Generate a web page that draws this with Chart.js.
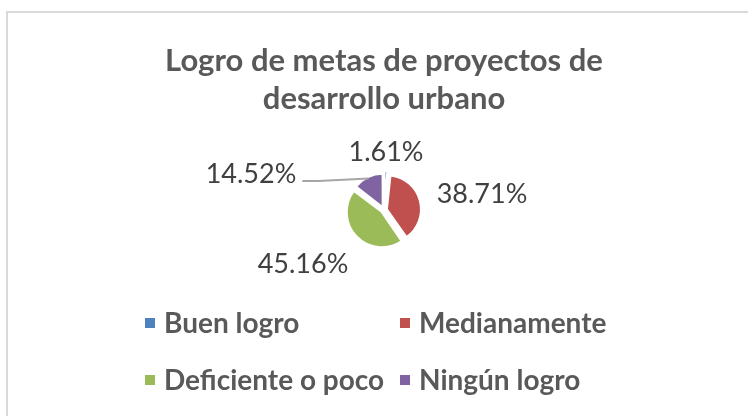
<!DOCTYPE html>
<html>
<head>
<meta charset="utf-8">
<script src="https://cdn.jsdelivr.net/npm/chart.js@4.4.0/dist/chart.umd.min.js"></script>
<style>
  html, body { margin: 0; background: #fff; }
  #wrap { width: 748px; height: 416px; }
</style>
</head>
<body>
<div id="wrap"><canvas id="pie" width="748" height="416"></canvas></div>
<script>
/* data */
const categories = ["Buen logro", "Medianamente", "Deficiente o poco", "Ningún logro"];
const shares = [1.61, 38.71, 45.16, 14.52];
const valueLabels = ["1.61%", "38.71%", "45.16%", "14.52%"];
const titleLines = ["Logro de metas de proyectos de", "desarrollo urbano"];

/* look */
const colors = ["#4F81BD", "#C0504D", "#9BBB59", "#8064A2"];
const FONT = "Lato, 'Open Sans', sans-serif";
// label text centres relative to pie centre (Excel "best fit" placement)
const labelOffsets = [[2, -59], [98, -17], [-81, 53], [-133, -37]];
const leaderFor = 3; // only the purple label gets a leader line
const legendCols = [145, 400];
const legendRows = [323, 380];

/* frame, data labels, leader line and the two-column legend */
const decor = {
  id: "decor",
  beforeDraw(chart) {
    const { ctx } = chart;
    ctx.save();
    ctx.strokeStyle = "#D9D9D9";
    ctx.lineWidth = 2;
    ctx.strokeRect(7, 12, 800, 500);
    ctx.restore();
  },
  afterDatasetsDraw(chart) {
    const { ctx } = chart;
    const arcs = chart.getDatasetMeta(0).data;
    const cx = arcs[0].x, cy = arcs[0].y;
    ctx.save();
    ctx.font = `27px ${FONT}`;
    ctx.fillStyle = "#404040";
    ctx.textAlign = "center";
    ctx.textBaseline = "middle";
    valueLabels.forEach((t, i) => {
      const [dx, dy] = labelOffsets[i];
      ctx.fillText(t, cx + dx, cy + dy + 1);
    });

    // leader line: from label's right side to the slice's outer mid point
    const a = arcs[leaderFor];
    const mid = (a.startAngle + a.endAngle) / 2;
    const r = a.outerRadius + 2;
    const ex = a.x + Math.cos(mid) * r, ey = a.y + Math.sin(mid) * r;
    const w = ctx.measureText(valueLabels[leaderFor]).width;
    const sx = cx + labelOffsets[leaderFor][0] + w / 2 + 6;
    const sy = cy + labelOffsets[leaderFor][1] + 8;
    ctx.strokeStyle = "#A6A6A6";
    ctx.lineWidth = 2;
    ctx.beginPath();
    ctx.moveTo(sx, sy);
    ctx.lineTo(sx + 16, sy);
    ctx.lineTo(ex, ey);
    ctx.stroke();
    ctx.restore();
  },
  afterDraw(chart) {
    const { ctx } = chart;
    ctx.save();
    ctx.font = `bold 28px ${FONT}`;
    ctx.textBaseline = "middle";
    ctx.textAlign = "left";
    categories.forEach((name, i) => {
      const x = legendCols[i % 2], y = legendRows[Math.floor(i / 2)];
      ctx.fillStyle = colors[i];
      ctx.fillRect(x, y - 5, 10, 10);
      ctx.fillStyle = "#595959";
      ctx.fillText(name, x + 19, y + 1);
    });
    ctx.restore();
  },
};

new Chart(document.getElementById("pie"), {
  type: "pie",
  data: {
    labels: categories,
    datasets: [{
      data: shares,
      backgroundColor: colors,
      borderColor: "#fff",
      borderWidth: 2,
      offset: 12,
    }],
  },
  options: {
    responsive: false,
    animation: false,
    radius: 33,
    layout: { padding: { left: 20, right: 0, top: 0, bottom: 114 } },
    plugins: {
      legend: { display: false },
      tooltip: { enabled: false },
      title: {
        display: true,
        text: titleLines,
        color: "#595959",
        font: { family: FONT, size: 31, weight: "bold", lineHeight: 1.226 },
        padding: { top: 42, bottom: 0 },
      },
    },
  },
  plugins: [decor],
});
</script>
</body>
</html>
